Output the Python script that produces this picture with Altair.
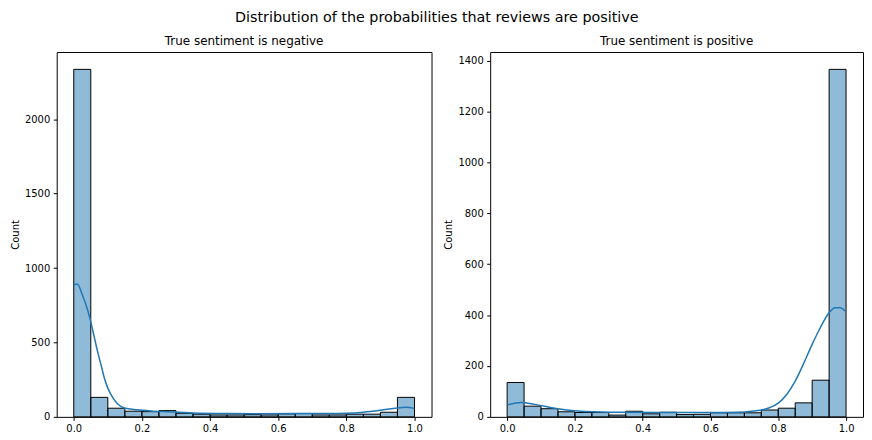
import altair as alt
import pandas as pd

# Histogram bins (20 bins of the predicted probability)
bin_start = [0.00, 0.05, 0.10, 0.15, 0.20, 0.25, 0.30, 0.35, 0.40, 0.45,
             0.50, 0.55, 0.60, 0.65, 0.70, 0.75, 0.80, 0.85, 0.90, 0.95]
bin_end = [0.05, 0.10, 0.15, 0.20, 0.25, 0.30, 0.35, 0.40, 0.45, 0.50,
           0.55, 0.60, 0.65, 0.70, 0.75, 0.80, 0.85, 0.90, 0.95, 1.00]

# Counts per bin
neg_counts = [2335, 131, 58, 38, 35, 42, 24, 18, 13, 13,
              15, 13, 20, 22, 13, 13, 18, 18, 31, 131]
pos_counts = [135, 42, 32, 20, 17, 17, 7, 22, 12, 18,
              9, 10, 16, 16, 16, 27, 34, 55, 144, 1365]

# KDE curves
neg_kde_x = [0.0, 0.01, 0.026, 0.041, 0.05, 0.06, 0.07, 0.08, 0.09, 0.10,
             0.115, 0.129, 0.149, 0.186, 0.227, 0.276, 0.35, 0.45, 0.55,
             0.65, 0.75, 0.8, 0.85, 0.9, 0.95, 0.975, 1.0]
neg_kde_y = [887, 893, 816, 716, 638, 538, 438, 349, 260, 193,
             127, 87, 60, 48, 40, 34, 26, 22, 21,
             22, 22, 24, 31, 44, 60, 64, 57]

pos_kde_x = [0.0, 0.042, 0.081, 0.14, 0.208, 0.306, 0.453, 0.6, 0.678,
             0.727, 0.757, 0.776, 0.8, 0.826, 0.85, 0.874, 0.899, 0.924,
             0.948, 0.968, 0.983, 0.997]
pos_kde_y = [47, 56, 49, 34, 23, 18, 17, 17, 18,
             23, 29, 37, 54, 90, 140, 207, 282, 350,
             406, 429, 429, 416]

x_ticks = [0.0, 0.2, 0.4, 0.6, 0.8, 1.0]
neg_y_ticks = [0, 500, 1000, 1500, 2000]
pos_y_ticks = [0, 200, 400, 600, 800, 1000, 1200, 1400]

BLUE = "#1f77b4"
FONT = "DejaVu Sans"


def panel(counts, kx, ky, title, y_ticks, width):
    bars_df = pd.DataFrame({"start": bin_start, "end": bin_end, "count": counts})
    kde_df = pd.DataFrame({"x": kx, "y": ky})
    ymax = max(counts) * 1.05
    xscale = alt.Scale(domain=[-0.05, 1.05], nice=False, zero=False)
    yscale = alt.Scale(domain=[0, ymax], nice=False)
    bars = alt.Chart(bars_df).mark_rect(
        fill=BLUE, fillOpacity=0.5, stroke="black", strokeWidth=1
    ).encode(
        x=alt.X("start:Q", scale=xscale,
                axis=alt.Axis(values=x_ticks, format=".1f", title=None)),
        x2="end:Q",
        y=alt.Y("count:Q", scale=yscale,
                axis=alt.Axis(values=y_ticks, format="d", title="Count")),
        y2=alt.datum(0),
    )
    line = alt.Chart(kde_df).mark_line(
        color=BLUE, strokeWidth=1.5, interpolate="monotone"
    ).encode(
        x=alt.X("x:Q", scale=xscale),
        y=alt.Y("y:Q", scale=yscale),
    )
    return alt.layer(bars, line).properties(
        width=width, height=367,
        title=alt.TitleParams(title, fontSize=12, fontWeight="normal",
                              font=FONT, color="black", anchor="middle",
                              offset=4.5),
    )


left = panel(neg_counts, neg_kde_x, neg_kde_y, "True sentiment is negative",
             neg_y_ticks, 377)
right = panel(pos_counts, pos_kde_x, pos_kde_y, "True sentiment is positive",
              pos_y_ticks, 375)

chart = alt.hconcat(left, right, spacing=11).resolve_scale(y="independent").properties(
    title=alt.TitleParams(
        "Distribution of the probabilities that reviews are positive",
        fontSize=14.4, fontWeight="normal", font=FONT, color="black",
        anchor="middle", offset=9),
    padding={"left": 2, "top": 0, "right": 0, "bottom": 0},
).configure_view(
    stroke="black", strokeWidth=1
).configure_axis(
    domain=False, grid=False, ticks=True, tickColor="black", tickSize=3.5,
    tickWidth=1, labelPadding=3.5, labelFontSize=10, labelColor="black",
    labelFont=FONT, titleFont=FONT, titleFontSize=10, titleFontWeight="normal",
    titleColor="black", titlePadding=4
)

chart.save("out.html", embed_options={"renderer": "svg", "actions": False})
